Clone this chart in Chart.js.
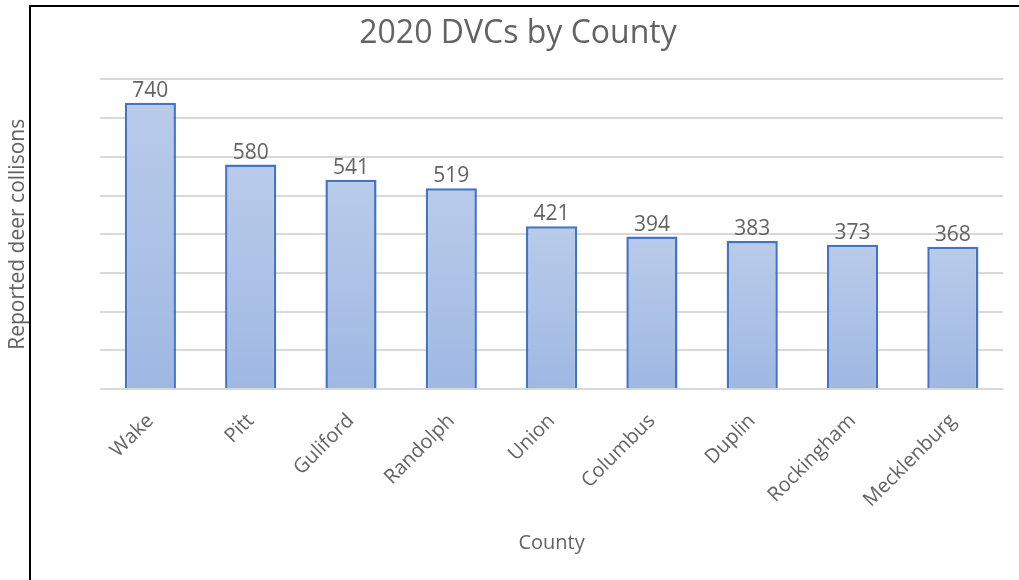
<!DOCTYPE html>
<html>
<head>
<meta charset="utf-8">
<title>2020 DVCs by County</title>
<script src="https://cdn.jsdelivr.net/npm/chart.js@4/dist/chart.umd.min.js"></script>
<style>
    html, body { margin: 0; padding: 0; background: #ffffff; }
    #wrap { position: relative; width: 1019px; height: 580px; }
    #frame {
        position: absolute; left: 29px; top: 5px; right: 0; bottom: 0;
        border-left: 2px solid #000; border-top: 2px solid #000;
        pointer-events: none;
    }
</style>
</head>
<body>
<div id="wrap">
    <canvas id="dvcChart"></canvas>
    <div id="frame"></div>
</div>
<script>
// Reported deer-vehicle collisions per county, 2020
const counties = ['Wake', 'Pitt', 'Guliford', 'Randolph', 'Union', 'Columbus', 'Duplin', 'Rockingham', 'Mecklenburg'];
const collisions = [740, 580, 541, 519, 421, 394, 383, 373, 368];
const yMin = 0;
const yMax = 800;
const yStep = 100;

const textGrey = '#636363';
const gridGrey = '#d9d9d9';
const fontFamily = '"Open Sans", "Liberation Sans", sans-serif';

// Per-bar vertical gradient, lighter at the top
function barGradient(context) {
    const chart = context.chart;
    const y = chart.scales && chart.scales.y;
    if (!chart.chartArea || !y || context.raw === undefined) return '#adc2e6';
    const top = y.getPixelForValue(context.raw);
    const bottom = y.getPixelForValue(0);
    const g = chart.ctx.createLinearGradient(0, top, 0, bottom);
    g.addColorStop(0, '#b9cbea');
    g.addColorStop(1, '#9fb8e2');
    return g;
}

// Value labels above each bar
const valueLabels = {
    id: 'valueLabels',
    afterDatasetsDraw(chart) {
        const ctx = chart.ctx;
        const meta = chart.getDatasetMeta(0);
        ctx.save();
        ctx.font = '21px ' + fontFamily;
        ctx.fillStyle = textGrey;
        ctx.textAlign = 'center';
        ctx.textBaseline = 'alphabetic';
        meta.data.forEach((bar, i) => {
            ctx.fillText(String(collisions[i]), bar.x, bar.y - 6);
        });
        ctx.restore();
    }
};

// The title is centred on the framed area, not on the whole canvas
const titleShift = {
    id: 'titleShift',
    afterLayout(chart) {
        if (chart.titleBlock) chart.titleBlock.left = 33;
    }
};

new Chart(document.getElementById('dvcChart'), {
    type: 'bar',
    data: {
        labels: counties,
        datasets: [{
            label: 'Reported deer collisons',
            data: collisions,
            backgroundColor: barGradient,
            borderColor: '#4472c4',
            borderWidth: 2.5,
            categoryPercentage: 1.0,
            barPercentage: 0.51
        }]
    },
    options: {
        responsive: true,
        maintainAspectRatio: false,
        animation: false,
        layout: { padding: { left: 0, right: 16, top: 0, bottom: 25 } },
        plugins: {
            legend: { display: false },
            tooltip: { enabled: false },
            title: {
                display: true,
                text: '2020 DVCs by County',
                color: textGrey,
                font: { family: fontFamily, size: 32, weight: 'normal' },
                padding: { top: 15, bottom: 26 }
            }
        },
        scales: {
            x: {
                grid: { display: false },
                border: { display: false },
                ticks: {
                    color: textGrey,
                    font: { family: fontFamily, size: 20 },
                    maxRotation: 45,
                    minRotation: 45,
                    padding: 12
                },
                title: {
                    display: true,
                    text: 'County',
                    color: textGrey,
                    font: { family: fontFamily, size: 20 },
                    padding: { top: 7, bottom: 0 }
                }
            },
            y: {
                min: yMin,
                max: yMax,
                grid: { color: gridGrey, lineWidth: 2, drawTicks: false },
                border: { display: false },
                ticks: { display: false, stepSize: yStep },
                title: {
                    display: true,
                    text: 'Reported deer collisons',
                    color: textGrey,
                    font: { family: fontFamily, size: 21 },
                    padding: { top: 5, bottom: 70 }
                }
            }
        }
    },
    plugins: [valueLabels, titleShift]
});
</script>
</body>
</html>
